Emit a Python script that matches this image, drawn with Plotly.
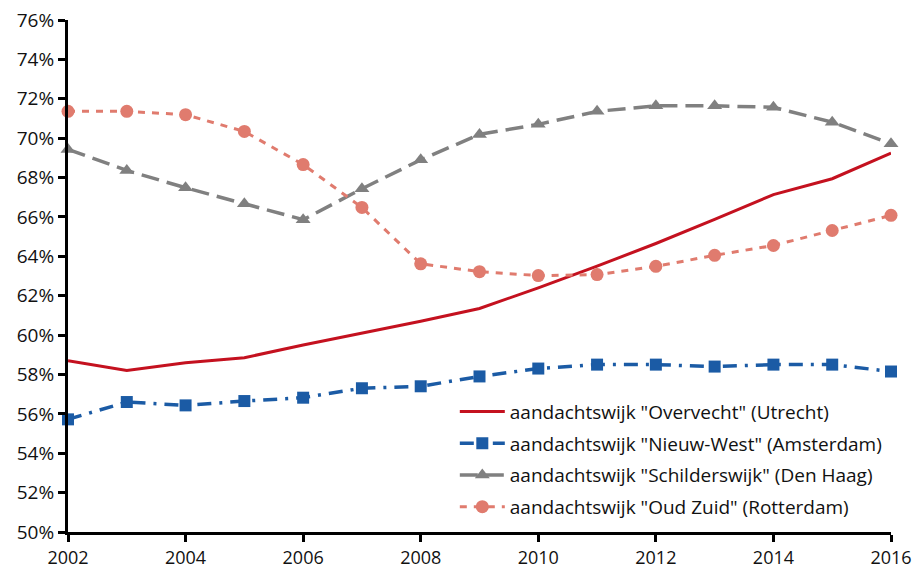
import plotly.graph_objects as go

years = list(range(2002, 2017))

# aandeel (%) per wijk
overvecht = [58.7, 58.2, 58.6, 58.85, 59.5, 60.1, 60.7, 61.35, 62.4, 63.5, 64.65, 65.87, 67.13, 67.94, 69.24]
nieuw_west = [55.72, 56.6, 56.43, 56.65, 56.82, 57.3, 57.4, 57.9, 58.3, 58.5, 58.5, 58.4, 58.5, 58.5, 58.15]
schilderswijk = [69.43, 68.36, 67.48, 66.67, 65.86, 67.43, 68.9, 70.19, 70.7, 71.36, 71.64, 71.64, 71.57, 70.81, 69.72]
oud_zuid = [71.36, 71.36, 71.19, 70.34, 68.66, 66.48, 63.62, 63.22, 63.02, 63.07, 63.49, 64.05, 64.55, 65.31, 66.08]

y_ticks = list(range(50, 77, 2))
y_labels = [f"{v}%" for v in y_ticks]
x_ticks = list(range(2002, 2017, 2))

FONT = dict(family="Open Sans", size=19, color="#111111")

fig = go.Figure()

fig.add_trace(go.Scatter(
    x=years, y=overvecht, mode="lines", legendgroup="a",
    name='aandachtswijk "Overvecht" (Utrecht)',
    line=dict(color="#C4111F", width=3),
    cliponaxis=False))

fig.add_trace(go.Scatter(
    x=years, y=nieuw_west, mode="lines+markers", legendgroup="b",
    name='aandachtswijk "Nieuw-West" (Amsterdam)',
    line=dict(color="#1B5BA5", width=3.5, dash="14px,8px,3px,8px"),
    marker=dict(symbol="square", size=12, color="#1B5BA5"),
    cliponaxis=False))

fig.add_trace(go.Scatter(
    x=years, y=schilderswijk, mode="lines+markers", legendgroup="c",
    name='aandachtswijk "Schilderswijk" (Den Haag)',
    line=dict(color="#808080", width=3.5, dash="18px,8px"),
    marker=dict(symbol="triangle-up", size=13, color="#808080"),
    cliponaxis=False))

fig.add_trace(go.Scatter(
    x=years, y=oud_zuid, mode="lines+markers", legendgroup="d",
    name='aandachtswijk "Oud Zuid" (Rotterdam)',
    line=dict(color="#E07B6E", width=3, dash="7px,7px"),
    marker=dict(symbol="circle", size=13, color="#E07B6E"),
    cliponaxis=False))

fig.update_layout(
    width=912, height=569,
    margin=dict(l=68, r=21, t=20, b=37, autoexpand=False),
    paper_bgcolor="white", plot_bgcolor="white",
    font=FONT,
    showlegend=True,
    legend=dict(
        x=0.47, y=0.272, xanchor="left", yanchor="top",
        bgcolor="rgba(255,255,255,0)",
        font=FONT, itemwidth=45, tracegroupgap=4,
    ),
)
fig.update_xaxes(
    range=[2002, 2016], tickmode="array", tickvals=x_ticks,
    ticktext=[str(v) for v in x_ticks],
    tickfont=dict(family="Open Sans", size=18, color="#111111"),
    ticklabeloverflow="allow",
    showgrid=False, zeroline=False,
    showline=True, linecolor="black", linewidth=3,
    ticks="outside", ticklen=7, tickwidth=3, tickcolor="black",
)
fig.update_yaxes(
    range=[50, 76], tickmode="array", tickvals=y_ticks, ticktext=y_labels,
    tickfont=FONT, ticklabeloverflow="allow",
    showgrid=False, zeroline=False,
    showline=True, linecolor="black", linewidth=3,
    ticks="outside", ticklen=7, tickwidth=3, tickcolor="black",
)

# drop the default page margin so the figure fills the window exactly
fig.write_html(
    "out.html",
    config={"displayModeBar": False},
    post_script="document.body.style.margin='0';document.body.style.overflow='hidden';",
)
